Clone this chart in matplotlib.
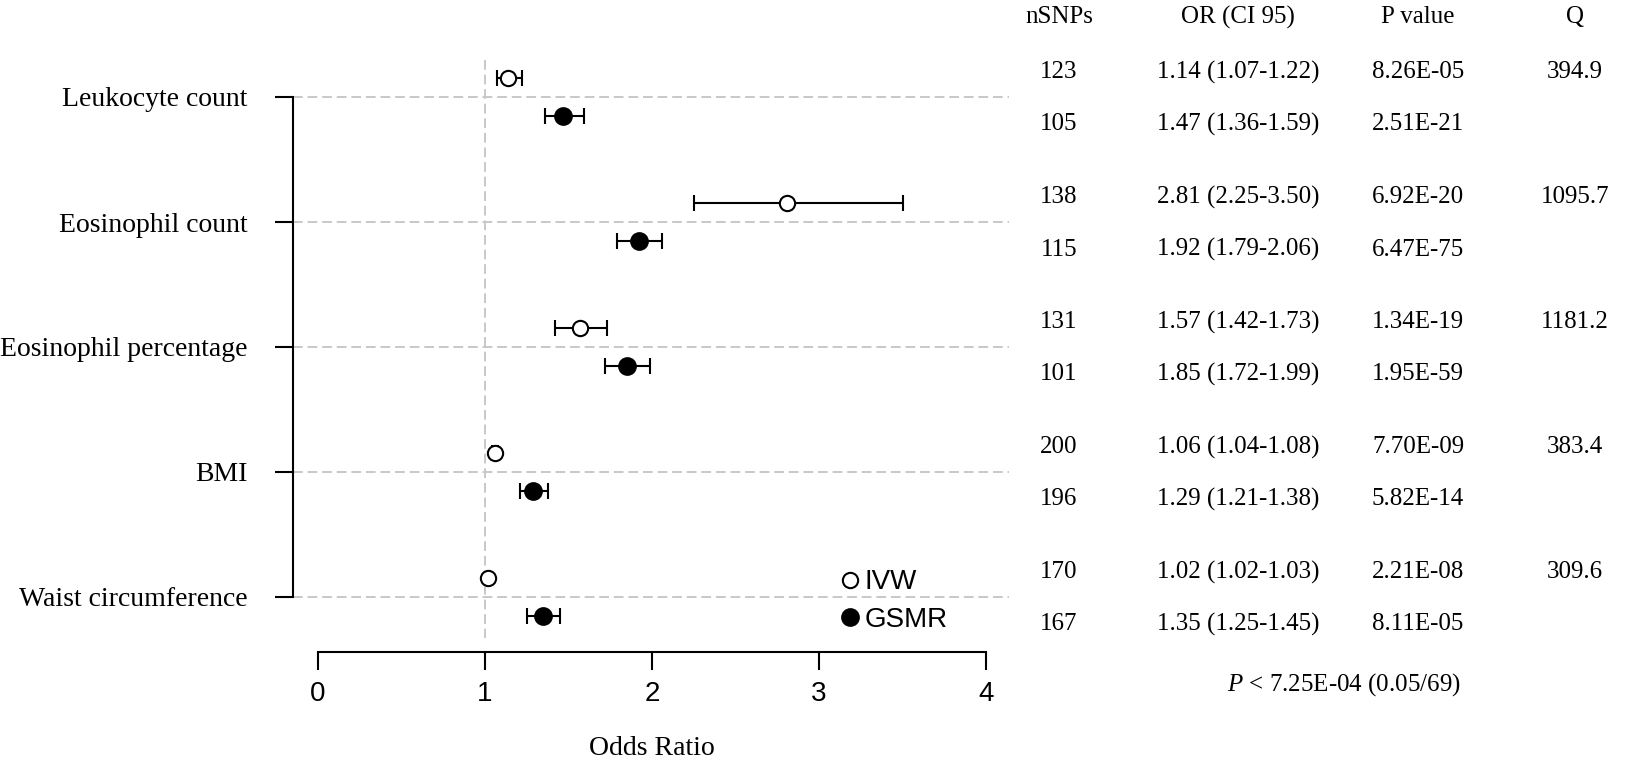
import matplotlib
matplotlib.use('Agg')
import matplotlib.pyplot as plt
import matplotlib.transforms as mtransforms
from matplotlib.lines import Line2D

plt.rcParams['font.family'] = ['Liberation Serif', 'DejaVu Serif']
plt.rcParams['mathtext.fontset'] = 'custom'
plt.rcParams['mathtext.rm'] = 'Liberation Serif'
plt.rcParams['mathtext.it'] = 'Liberation Serif:italic'

# Datos
exposures = ['Leukocyte count', 'Eosinophil count', 'Eosinophil percentage',
             'BMI', 'Waist circumference']

ivw_or = [1.14, 2.81, 1.57, 1.06, 1.02]
ivw_lo = [1.07, 2.25, 1.42, 1.04, 1.02]
ivw_hi = [1.22, 3.50, 1.73, 1.08, 1.03]
ivw_nsnp = [123, 138, 131, 200, 170]
ivw_p = ['8.26E-05', '6.92E-20', '1.34E-19', '7.70E-09', '2.21E-08']
ivw_q = ['394.9', '1095.7', '1181.2', '383.4', '309.6']

gsmr_or = [1.47, 1.92, 1.85, 1.29, 1.35]
gsmr_lo = [1.36, 1.79, 1.72, 1.21, 1.25]
gsmr_hi = [1.59, 2.06, 1.99, 1.38, 1.45]
gsmr_nsnp = [105, 115, 101, 196, 167]
gsmr_p = ['2.51E-21', '6.47E-75', '1.95E-59', '5.82E-14', '8.11E-05']

headers = ['nSNPs', 'OR (CI 95)', 'P value', 'Q']
x_ticks = [0, 1, 2, 3, 4]
footnote = r'$P$ < 7.25E-04 (0.05/69)'

SANS = 'Liberation Sans'
GRID = '#c8c8c8'
DASH = (0, (5, 2.5))

fig = plt.figure(figsize=(16.5, 7.61), dpi=100)
ax = fig.add_axes([293 / 1650, 109 / 761, 717 / 1650, 590 / 761])

y = list(range(len(exposures)))
y_ivw = [v - 0.152 for v in y]
y_gsmr = [v + 0.152 for v in y]

# lineas de referencia
ax.hlines(y, -0.15, 4.14, colors=GRID, linestyles=DASH, lw=1.4, zorder=0)
ax.vlines(1, -0.3, 4.33, colors=GRID, linestyles=DASH, lw=1.4, zorder=0, clip_on=False)

ax.errorbar(ivw_or, y_ivw,
            xerr=[[o - l for o, l in zip(ivw_or, ivw_lo)],
                  [h - o for o, h in zip(ivw_or, ivw_hi)]],
            fmt='o', mfc='white', mec='black', ms=11, mew=1.5,
            ecolor='black', elinewidth=1.5, capsize=6, capthick=1.5, zorder=3)
ax.errorbar(gsmr_or, y_gsmr,
            xerr=[[o - l for o, l in zip(gsmr_or, gsmr_lo)],
                  [h - o for o, h in zip(gsmr_or, gsmr_hi)]],
            fmt='o', mfc='black', mec='black', ms=12, mew=1.5,
            ecolor='black', elinewidth=1.5, capsize=6, capthick=1.5, zorder=3)

ax.set_xlim(-0.1497, 4.1437)
ax.set_ylim(4.44, -0.28)

for s in ['top', 'right']:
    ax.spines[s].set_visible(False)
ax.spines['left'].set_bounds(0, 4)
ax.spines['bottom'].set_bounds(0, 4)
ax.spines['left'].set_linewidth(1.5)
ax.spines['bottom'].set_linewidth(1.5)

ax.set_yticks(y)
ax.set_yticklabels(exposures, fontsize=20)
ax.set_xticks(x_ticks)
ax.set_xticklabels([str(t) for t in x_ticks], fontsize=20, family=SANS)
ax.tick_params(axis='y', length=13, width=1.5, pad=20)
ax.tick_params(axis='x', length=13, width=1.5, pad=8)
ax.set_xlabel('Odds Ratio', fontsize=20, labelpad=21)

handles = [Line2D([], [], marker='o', ls='none', mfc='white', mec='black', ms=11, mew=1.5),
           Line2D([], [], marker='o', ls='none', mfc='black', mec='black', ms=12, mew=1.5)]
ax.legend(handles, ['IVW', 'GSMR'], loc='upper left', bbox_to_anchor=(0.761, 0.14),
          frameon=False, handlelength=0.8, handletextpad=0.12, labelspacing=0.4,
          borderpad=0, borderaxespad=0, prop={'family': SANS, 'size': 20})

# tabla a la derecha
tr = mtransforms.blended_transform_factory(fig.transFigure, ax.transData)
col_x = [1059 / 1650, 1238 / 1650, 1418 / 1650, 1575 / 1650]
TS = 18
for cx, h in zip(col_x, headers):
    ax.text(cx, -0.64, h, transform=tr, ha='center', va='center', fontsize=TS)

for i in range(len(exposures)):
    yi = y[i] - 0.2
    yg = y[i] + 0.22
    ax.text(col_x[0], yi, str(ivw_nsnp[i]), transform=tr, ha='center', va='center', fontsize=TS)
    ax.text(col_x[1], yi, f'{ivw_or[i]:.2f} ({ivw_lo[i]:.2f}-{ivw_hi[i]:.2f})',
            transform=tr, ha='center', va='center', fontsize=TS)
    ax.text(col_x[2], yi, ivw_p[i], transform=tr, ha='center', va='center', fontsize=TS)
    ax.text(col_x[3], yi, ivw_q[i], transform=tr, ha='center', va='center', fontsize=TS)
    ax.text(col_x[0], yg, str(gsmr_nsnp[i]), transform=tr, ha='center', va='center', fontsize=TS)
    ax.text(col_x[1], yg, f'{gsmr_or[i]:.2f} ({gsmr_lo[i]:.2f}-{gsmr_hi[i]:.2f})',
            transform=tr, ha='center', va='center', fontsize=TS)
    ax.text(col_x[2], yg, gsmr_p[i], transform=tr, ha='center', va='center', fontsize=TS)

ax.text(1461 / 1650, 4.7, footnote, transform=tr, ha='right', va='center', fontsize=TS)

fig.savefig('out.png', dpi=100)
